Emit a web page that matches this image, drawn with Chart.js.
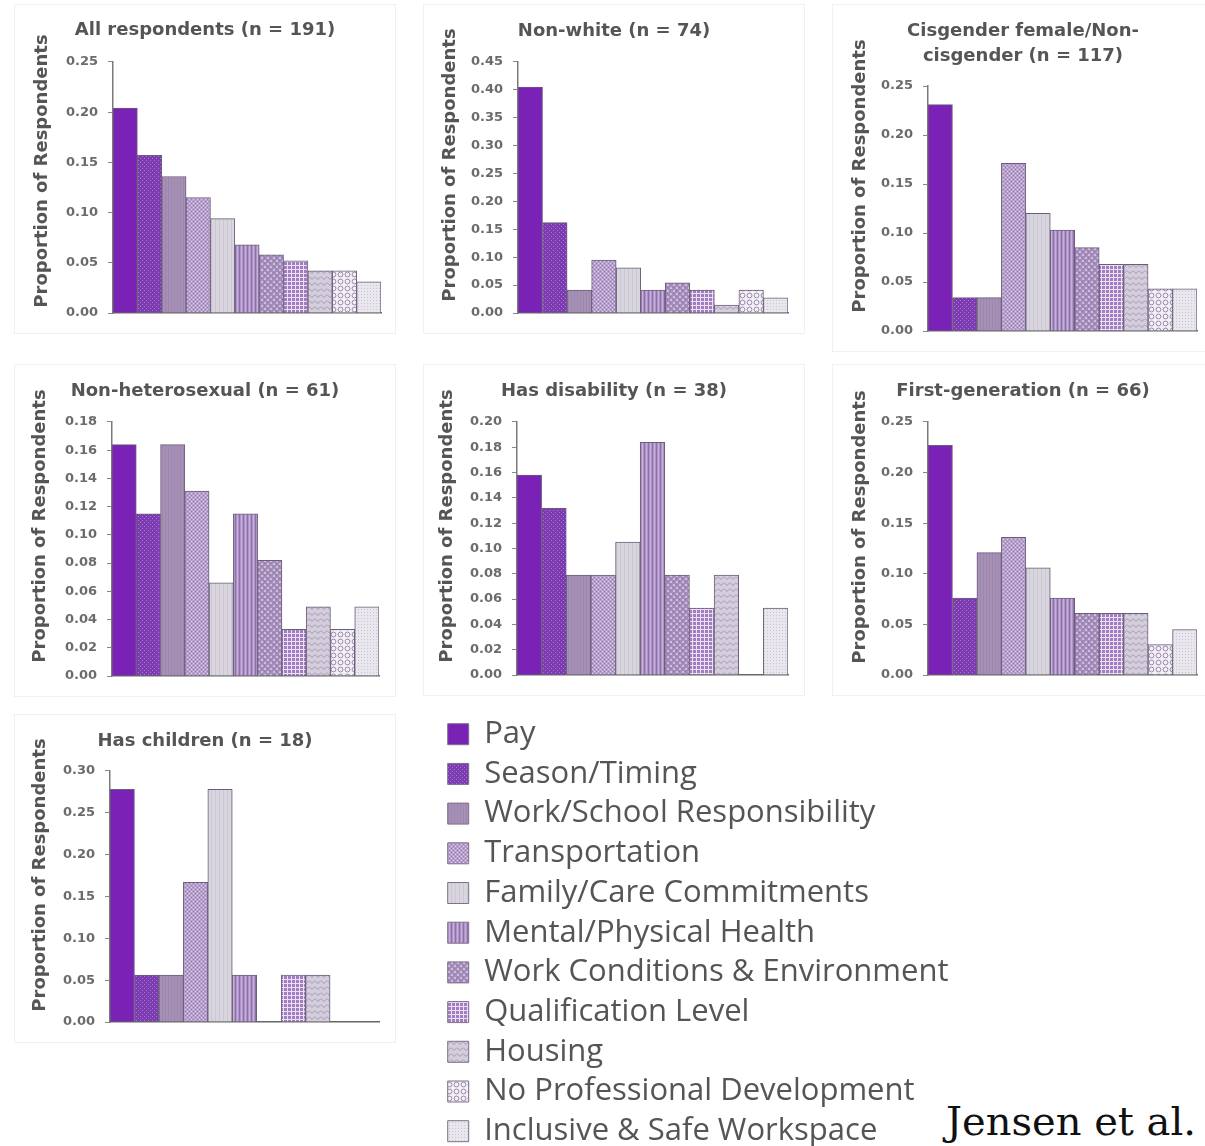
<!DOCTYPE html>
<html>
<head>
<meta charset="utf-8">
<script src="https://cdn.jsdelivr.net/npm/chart.js@4.4.1/dist/chart.umd.min.js"></script>
<style>
  html, body { margin: 0; padding: 0; background: #fff; width: 1205px; height: 1146px; overflow: hidden; }
  canvas { position: absolute; }
  canvas.panel { outline: 1px solid #f0f0f0; }
  #cite { position: absolute; left: 946px; top: 1101px; font-family: "DejaVu Serif", serif; font-size: 40px;
          line-height: 40px; color: #111; white-space: nowrap; }
</style>
</head>
<body>
<div id="cite">Jensen et al.</div>
<script>
// Reasons respondents gave, in plotting order
const categories = [
  'Pay', 'Season/Timing', 'Work/School Responsibility', 'Transportation',
  'Family/Care Commitments', 'Mental/Physical Health', 'Work Conditions & Environment',
  'Qualification Level', 'Housing', 'No Professional Development', 'Inclusive & Safe Workspace'
];

// Proportion of respondents per group
const allRespondents  = [0.204, 0.157, 0.136, 0.115, 0.094, 0.068, 0.058, 0.052, 0.042, 0.042, 0.031];
const nonWhite        = [0.405, 0.162, 0.041, 0.095, 0.081, 0.041, 0.054, 0.041, 0.014, 0.041, 0.027];
const cisFemaleNonCis = [0.231, 0.034, 0.034, 0.171, 0.120, 0.103, 0.085, 0.068, 0.068, 0.043, 0.043];
const nonHeterosexual = [0.164, 0.115, 0.164, 0.131, 0.066, 0.115, 0.082, 0.033, 0.049, 0.033, 0.049];
const hasDisability   = [0.158, 0.132, 0.079, 0.079, 0.105, 0.184, 0.079, 0.053, 0.079, 0.000, 0.053];
const firstGeneration = [0.227, 0.076, 0.121, 0.136, 0.106, 0.076, 0.061, 0.061, 0.061, 0.030, 0.045];
const hasChildren     = [0.278, 0.056, 0.056, 0.167, 0.278, 0.056, 0.000, 0.056, 0.056, 0.000, 0.000];

// Panel titles and y-axis ranges
const panelTitles = [
  'All respondents (n = 191)', 'Non-white (n = 74)', ['Cisgender female/Non-', 'cisgender (n = 117)'],
  'Non-heterosexual (n = 61)', 'Has disability (n = 38)', 'First-generation (n = 66)', 'Has children (n = 18)'
];
const panelValues = [allRespondents, nonWhite, cisFemaleNonCis, nonHeterosexual, hasDisability, firstGeneration, hasChildren];
const axisMax  = [0.25, 0.45, 0.25, 0.18, 0.20, 0.25, 0.30];
const axisStep = [0.05, 0.05, 0.05, 0.02, 0.02, 0.05, 0.05];
const axisLabel = 'Proportion of Respondents';

// Page placement of each panel: canvas box, plot area, title centre, side label centre
const panelBoxes = [
  { x: 15,  y: 5,   w: 380, h: 328, left: 113, top: 62,  right: 381,  bottom: 313, titleY: 30,  labelX: 42,  labelY: 171 },
  { x: 424, y: 5,   w: 380, h: 328, left: 518, top: 62,  right: 788,  bottom: 313, titleY: 31,  labelX: 450, labelY: 165 },
  { x: 833, y: 5,   w: 380, h: 346, left: 928, top: 86,  right: 1197, bottom: 331, titleY: 44,  labelX: 860, labelY: 176 },
  { x: 15,  y: 365, w: 380, h: 331, left: 112, top: 422, right: 379,  bottom: 676, titleY: 391, labelX: 40,  labelY: 526 },
  { x: 424, y: 365, w: 380, h: 330, left: 517, top: 422, right: 788,  bottom: 675, titleY: 391, labelX: 447, labelY: 526 },
  { x: 833, y: 365, w: 380, h: 330, left: 928, top: 422, right: 1197, bottom: 675, titleY: 391, labelX: 860, labelY: 527 },
  { x: 15,  y: 715, w: 380, h: 327, left: 110, top: 771, right: 379,  bottom: 1022, titleY: 741, labelX: 40, labelY: 875 }
];

// ---- fill patterns for the eleven reasons ----
function tile(size, draw) {
  const c = document.createElement('canvas');
  c.width = size; c.height = size;
  const g = c.getContext('2d');
  draw(g, size);
  return g.createPattern(c, 'repeat');
}
function base(g, s, col) { g.fillStyle = col; g.fillRect(0, 0, s, s); }

const fills = [
  '#7a22b6',
  tile(4, (g, s) => { base(g, s, '#7d3bb2'); g.fillStyle = '#a779cf'; g.fillRect(1, 1, 1, 1); g.fillRect(3, 3, 1, 1); }),
  tile(3, (g, s) => { base(g, s, '#a690b6'); g.fillStyle = '#9d87ae'; g.fillRect(0, 0, 1, s); }),
  tile(4, (g, s) => { base(g, s, '#b6a0cb'); g.fillStyle = '#ddd0ea'; g.fillRect(0, 0, 1, 1); g.fillRect(2, 2, 1, 1);
                      g.fillStyle = '#9a80b6'; g.fillRect(2, 0, 1, 1); g.fillRect(0, 2, 1, 1); }),
  tile(4, (g, s) => { base(g, s, '#d9d5de'); g.fillStyle = '#cdc7d4'; g.fillRect(0, 0, 1, s); }),
  tile(4, (g, s) => { base(g, s, '#ae93c7'); g.fillStyle = '#8f70ae'; g.fillRect(0, 0, 1, s); g.fillStyle = '#c6b2d8'; g.fillRect(2, 0, 1, s); }),
  tile(6, (g, s) => { base(g, s, '#a48dba'); g.fillStyle = '#cdbedb'; g.fillRect(0, 0, 2, 2); g.fillRect(3, 3, 2, 2);
                      g.fillStyle = '#8b72a2'; g.fillRect(3, 0, 1, 1); g.fillRect(0, 3, 1, 1); }),
  tile(4, (g, s) => { base(g, s, '#a27dc4'); g.fillStyle = '#e9e0f1'; g.fillRect(0, 0, s, 1); g.fillRect(0, 0, 1, s); }),
  tile(6, (g, s) => { base(g, s, '#d4cddb'); g.strokeStyle = '#a497b3'; g.lineWidth = 1;
                      g.beginPath(); g.moveTo(0, 1.5); g.lineTo(3, 4.5); g.lineTo(6, 1.5); g.stroke(); }),
  tile(7, (g, s) => { base(g, s, '#f2eff5'); g.strokeStyle = '#9c89ad'; g.lineWidth = 1;
                      g.beginPath(); g.arc(3.5, 3.5, 2.4, 0, Math.PI * 2); g.stroke(); }),
  tile(3, (g, s) => { base(g, s, '#e9e6ed'); g.fillStyle = '#cbc4d3'; g.fillRect(1, 1, 1, 1); })
];

// Vertical axis caption drawn at a fixed spot beside the axis
const sideLabel = {
  id: 'sideLabel',
  afterDraw(chart, args, opts) {
    const ctx = chart.ctx;
    ctx.save();
    ctx.translate(opts.x, opts.y);
    ctx.rotate(-Math.PI / 2);
    ctx.font = 'bold 18px "DejaVu Sans"';
    ctx.fillStyle = '#555555';
    ctx.textAlign = 'center';
    ctx.textBaseline = 'middle';
    ctx.fillText(opts.text, 0, 0);
    ctx.restore();
  }
};

function makePanel(i) {
  const geo = panelBoxes[i];
  const title = panelTitles[i];
  const cv = document.createElement('canvas');
  cv.width = geo.w; cv.height = geo.h;
  cv.className = 'panel';
  cv.style.left = geo.x + 'px';
  cv.style.top = geo.y + 'px';
  document.body.appendChild(cv);

  const lines = Array.isArray(title) ? title.length : 1;
  const lh = lines > 1 ? 25 : 21.6;
  const padTop = geo.titleY - geo.y - lines * lh / 2;
  const padBottom = geo.top - geo.y - padTop - lines * lh;
  // equal side margins keep the title centred on the panel
  const side = geo.x + geo.w - geo.right;

  new Chart(cv, {
    type: 'bar',
    data: {
      labels: categories,
      datasets: [{
        data: panelValues[i],
        backgroundColor: fills,
        borderColor: '#6c5e79',
        borderWidth: 1,
        categoryPercentage: 1,
        barPercentage: 1
      }]
    },
    options: {
      responsive: false,
      animation: false,
      devicePixelRatio: 1,
      layout: {
        autoPadding: false,
        padding: { left: side, top: 0, right: side, bottom: geo.y + geo.h - geo.bottom }
      },
      plugins: {
        legend: { display: false },
        tooltip: { enabled: false },
        title: {
          display: true,
          text: title,
          color: '#555555',
          font: { family: 'DejaVu Sans', weight: 'bold', size: 18, lineHeight: lh / 18 },
          padding: { top: padTop, bottom: padBottom }
        },
        sideLabel: { text: axisLabel, x: geo.labelX - geo.x, y: geo.labelY - geo.y }
      },
      scales: {
        x: {
          grid: { display: false },
          ticks: { display: false },
          border: { display: true, color: '#666666', width: 1.5 },
          afterFit(s) { s.height = 0; }
        },
        y: {
          min: 0,
          max: axisMax[i],
          ticks: {
            stepSize: axisStep[i],
            autoSkip: false,
            padding: 10,
            color: '#6b6b6b',
            font: { family: 'DejaVu Sans', weight: 'bold', size: 13 },
            callback: v => Number(v).toFixed(2)
          },
          grid: { drawOnChartArea: false, drawTicks: true, tickLength: 5, color: '#888888' },
          border: { display: true, color: '#7a7a7a', width: 1.5 },
          afterFit(s) { s.width = geo.left - geo.x - side; }
        }
      }
    },
    plugins: [sideLabel]
  });
}

for (let i = 0; i < panelValues.length; i++) makePanel(i);

// Shared key for all panels
const key = document.createElement('canvas');
key.width = 766; key.height = 470;
key.style.left = '439px';
key.style.top = '710px';
document.body.appendChild(key);
new Chart(key, {
  type: 'bar',
  data: {
    labels: [],
    datasets: categories.map((name, i) => ({
      label: name, data: [], backgroundColor: fills[i], borderColor: '#7d7088', borderWidth: 1
    }))
  },
  options: {
    responsive: false,
    animation: false,
    devicePixelRatio: 1,
    layout: { padding: 0 },
    scales: { x: { display: false }, y: { display: false } },
    plugins: {
      tooltip: { enabled: false },
      legend: {
        position: 'left',
        align: 'start',
        maxWidth: 560,
        onClick: null,
        labels: {
          boxWidth: 21, boxHeight: 21, padding: 8.7,
          color: '#555555',
          font: { family: 'Open Sans', size: 31 }
        }
      }
    }
  }
});
</script>
</body>
</html>
